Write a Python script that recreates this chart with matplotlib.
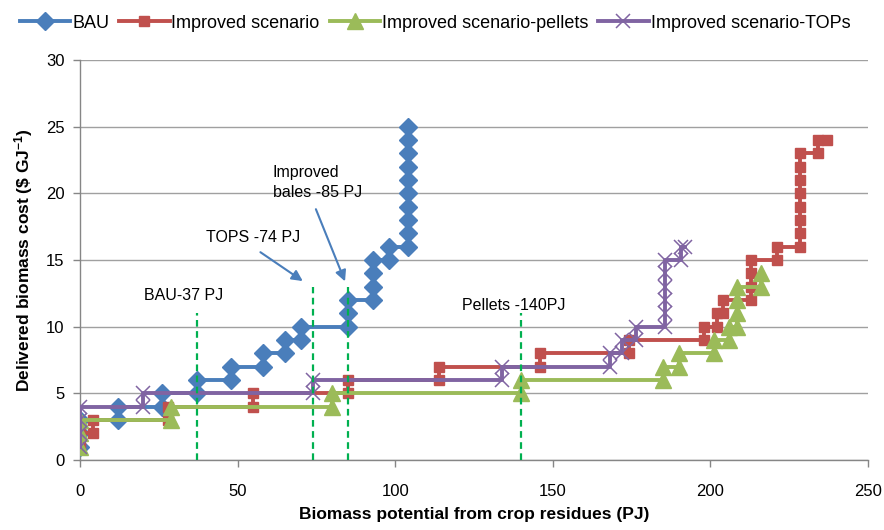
import matplotlib
matplotlib.use("Agg")
import matplotlib.pyplot as plt

plt.rcParams["font.family"] = ["Liberation Sans Narrow", "Liberation Sans", "DejaVu Sans"]
plt.rcParams["mathtext.default"] = "regular"

# ── data: step curves (biomass potential PJ, delivered cost $/GJ) ──
bau_x = [0, 0, 0, 12, 12, 26, 26, 37, 37, 48, 48, 58, 58, 65, 65, 70, 70, 85, 85, 85,
         93, 93, 93, 93, 98, 98, 104, 104, 104, 104, 104, 104, 104, 104, 104, 104]
bau_y = [1, 2, 3, 3, 4, 4, 5, 5, 6, 6, 7, 7, 8, 8, 9, 9, 10, 10, 11, 12,
         12, 13, 14, 15, 15, 16, 16, 17, 18, 19, 20, 21, 22, 23, 24, 25]

imp_x = [0, 0, 4, 4, 28, 28, 55, 55, 85, 85, 114, 114, 146, 146, 174, 174, 198, 198,
         202, 202, 204, 204, 213, 213, 213, 213, 221, 221, 228.5, 228.5, 228.5, 228.5,
         228.5, 228.5, 228.5, 228.5, 234, 234, 237]
imp_y = [1, 2, 2, 3, 3, 4, 4, 5, 5, 6, 6, 7, 7, 8, 8, 9, 9, 10,
         10, 11, 11, 12, 12, 13, 14, 15, 15, 16, 16, 17,
         18, 19, 20, 21, 22, 23, 23, 24, 24]

pel_x = [0, 0, 0, 29, 29, 80, 80, 140, 140, 185, 185, 190, 190, 201, 201, 206, 206,
         208.5, 208.5, 208.5, 208.5, 216, 216]
pel_y = [1, 2, 3, 3, 4, 4, 5, 5, 6, 6, 7, 7, 8, 8, 9, 9, 10,
         10, 11, 12, 13, 13, 14]

tops_x = [0, 0, 0, 0, 20, 20, 74, 74, 134, 134, 168, 168, 172, 172, 176.5, 176.5,
          185.5, 185.5, 185.5, 185.5, 185.5, 185.5, 190.5, 190.5, 192]
tops_y = [1, 2, 3, 4, 4, 5, 5, 6, 6, 7, 7, 8, 8, 9, 9, 10,
          10, 11, 12, 13, 14, 15, 15, 16, 16]

# reference lines (PJ, top of dashed line)
ref_x = [37, 74, 85, 140]
ref_top = [11, 13, 13, 11]

BLUE = "#4A7EBB"
RED = "#C0504D"
GREEN = "#9BBB59"
PURPLE = "#8064A2"
DASH = "#00B050"

fig = plt.figure(figsize=(8.84, 5.30), dpi=100)
ax = fig.add_axes([0.0905, 0.132, 0.8915, 0.755])

lw = 2.8
ax.plot(bau_x, bau_y, color=BLUE, lw=lw, marker="D", ms=9.5, mec=BLUE,
        label="BAU", zorder=3)
ax.plot(imp_x, imp_y, color=RED, lw=lw, marker="s", ms=7, mec=RED,
        label="Improved scenario", zorder=4)
ax.plot(pel_x, pel_y, color=GREEN, lw=lw, marker="^", ms=11.5, mec=GREEN,
        label="Improved scenario-pellets", zorder=5)
ax.plot(tops_x, tops_y, color=PURPLE, lw=lw, marker="x", ms=10.5, mew=1.1,
        label="Improved scenario-TOPs", zorder=6)

for xv, top in zip(ref_x, ref_top):
    ax.plot([xv, xv], [0, top], color=DASH, lw=1.6, ls=(0, (3, 2)), zorder=7)

# annotations
ax.text(32.7, 12.3, "BAU-37 PJ", ha="center", va="center", fontsize=11.5)
ax.text(137.5, 11.55, "Pellets -140PJ", ha="center", va="center", fontsize=11.5)
ax.text(55, 16.7, "TOPS -74 PJ", ha="center", va="center", fontsize=11.5)
ax.text(61.2, 20.8, "Improved\nbales -85 PJ", ha="left", va="center",
        fontsize=11.5, linespacing=1.45)
arrow = dict(arrowstyle="-|>", color=BLUE, lw=1.5, mutation_scale=16)
ax.annotate("", xy=(71.4, 13.3), xytext=(56.5, 15.7), arrowprops=arrow)
ax.annotate("", xy=(84.4, 13.2), xytext=(74.5, 19.0), arrowprops=arrow)

ax.set_xlim(0, 250)
ax.set_ylim(0, 30)
ax.set_xticks(range(0, 251, 50))
ax.set_yticks(range(0, 31, 5))
ax.tick_params(axis="both", labelsize=12, labelcolor="#000000", length=5,
               width=1, direction="out", color="#868686")
ax.tick_params(axis="x", pad=12)
ax.tick_params(axis="y", pad=6)
ax.yaxis.grid(True, color="#A0A0A0", lw=1)
ax.set_axisbelow(True)
for s in ["top", "right"]:
    ax.spines[s].set_visible(False)
for s in ["left", "bottom"]:
    ax.spines[s].set_color("#868686")
    ax.spines[s].set_linewidth(1)

ax.set_xlabel("Biomass potential from crop residues (PJ)", fontsize=12.5,
              fontweight="bold", labelpad=6)
ax.set_ylabel(r"Delivered biomass cost (\$ GJ$^{-1}$)", fontsize=12.5,
              fontweight="bold", labelpad=8)

fig.legend(loc="upper center", bbox_to_anchor=(0.492, 0.993), ncol=4,
           frameon=False, fontsize=13, handlelength=2.8, handletextpad=0.1,
           columnspacing=0.55, borderaxespad=0.2)

fig.savefig("out.png", dpi=100, facecolor="white")
